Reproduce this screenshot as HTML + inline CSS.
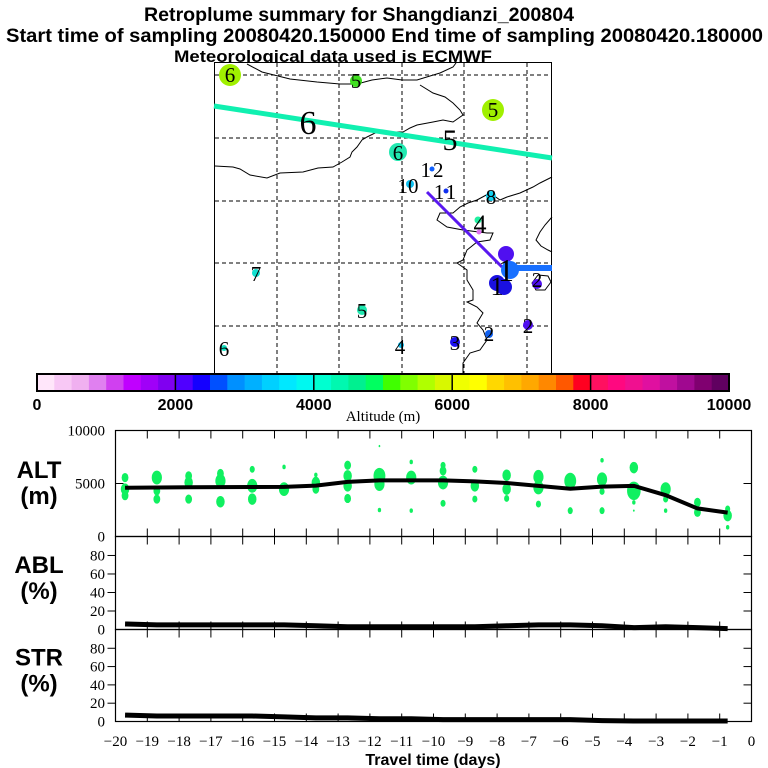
<!DOCTYPE html>
<html><head><meta charset="utf-8"><style>
html,body{margin:0;padding:0;background:#fff;}
svg{display:block;}
.t{font-family:"Liberation Sans",sans-serif;font-weight:bold;}
.s{font-family:"Liberation Serif",serif;}
</style></head><body>
<svg id="root" width="768" height="768" viewBox="0 0 768 768" xmlns="http://www.w3.org/2000/svg">
<rect width="768" height="768" fill="#fff"/>
<text class="t" x="359" y="21" font-size="19" text-anchor="middle" textLength="430" lengthAdjust="spacingAndGlyphs">Retroplume summary for Shangdianzi_200804</text>
<text class="t" x="6" y="42" font-size="19" textLength="757" lengthAdjust="spacingAndGlyphs">Start time of sampling 20080420.150000     End time of sampling 20080420.180000</text>
<text class="t" x="333" y="62" font-size="17" text-anchor="middle" textLength="318" lengthAdjust="spacingAndGlyphs">Meteorological data used is ECMWF</text>

<g id="map">
<rect x="214.5" y="62.5" width="337" height="311" fill="#fff" stroke="#000"/>
<g stroke="#000" stroke-dasharray="4,3" stroke-width="1">
<line x1="277" y1="63" x2="277" y2="373"/><line x1="339" y1="63" x2="339" y2="373"/><line x1="402" y1="63" x2="402" y2="373"/><line x1="464" y1="63" x2="464" y2="373"/><line x1="527" y1="63" x2="527" y2="373"/>
<line x1="215" y1="75" x2="551" y2="75"/><line x1="215" y1="138" x2="551" y2="138"/><line x1="215" y1="201" x2="551" y2="201"/><line x1="215" y1="263" x2="551" y2="263"/><line x1="215" y1="326" x2="551" y2="326"/>
</g>
<g fill="none" stroke="#000" stroke-width="1">
<polyline points="247,64 262,72 290,79 317,82 340,84 357,84 372,80 387,78 402,80 417,80 430,76 440,73 453,67 456,63"/>
<polyline points="420,85 433,93 445,97 453,103 460,110 463,115 453,122 443,120 433,122 417,125 410,128 403,132 387,132 375,133 367,137 362,140 357,147 352,152 350,157 342,162 333,167 318,168 303,172 280,173 267,178 250,175 240,169 233,167 215,166"/>
<polyline points="552,177 540,183 533,187 520,193 507,197 500,200 490,193 477,200 468,203 460,207 453,213 440,213 437,220 447,227 463,230 487,233 493,233 490,240 477,242 467,250 463,260 457,263 467,270 467,280 473,290 473,300 467,302 477,307 483,313 477,323 483,330 487,340 480,350 470,353 463,363 463,373"/>
<polyline points="552,217 545,225 540,232 536,240 541,246 548,250 552,252"/>
<polyline points="538,275 548,276 551,282 545,290 536,290 532,283 538,275"/>
</g>
<line x1="214" y1="106" x2="552" y2="158" stroke="#10f0b0" stroke-width="5"/>
<line x1="427" y1="192" x2="502" y2="267" stroke="#5a18f0" stroke-width="3"/>
<line x1="502" y1="268" x2="552" y2="268" stroke="#1870ff" stroke-width="6"/>
<g>
<circle cx="230" cy="75" r="11" fill="#a0f000"/>
<circle cx="356" cy="81" r="6" fill="#40e020"/>
<circle cx="493" cy="110" r="11" fill="#a0f000"/>
<circle cx="398" cy="152" r="9" fill="#20e8b0"/>
<circle cx="432" cy="169" r="2.5" fill="#1060ff"/>
<circle cx="410" cy="184" r="4" fill="#10c0f0"/>
<circle cx="446" cy="191" r="2.5" fill="#1030f0"/>
<circle cx="491" cy="196" r="5" fill="#10d0f0"/>
<circle cx="478" cy="220" r="3.5" fill="#20f0a0"/>
<circle cx="479" cy="232" r="2.5" fill="#e070f0"/>
<circle cx="506" cy="254" r="8" fill="#5010f0"/>
<circle cx="510" cy="270" r="9" fill="#1870ff"/>
<circle cx="497" cy="283" r="8" fill="#1a10e0"/>
<circle cx="504" cy="287" r="8" fill="#1a10e0"/>
<circle cx="537" cy="284" r="5" fill="#5010f0"/>
<circle cx="528" cy="325" r="5" fill="#5010f0"/>
<circle cx="489" cy="334" r="4" fill="#1060f0"/>
<circle cx="455" cy="342" r="5" fill="#1a10f0"/>
<circle cx="401" cy="345" r="3" fill="#10c0f0"/>
<circle cx="362" cy="310" r="5" fill="#20e8b0"/>
<circle cx="256" cy="273" r="4" fill="#10e0d0"/>
<circle cx="224" cy="348" r="3" fill="#10e0c0"/>
</g>
<g class="s" font-size="21" text-anchor="middle" fill="#000">
<text x="230" y="82">6</text><text x="356" y="88">5</text><text x="493" y="117">5</text>
<text x="308" y="134" font-size="34">6</text><text x="450" y="150" font-size="30">5</text>
<text x="398" y="160">6</text><text x="433" y="177" letter-spacing="2">12</text><text x="408" y="193">10</text><text x="446" y="199" letter-spacing="2">11</text>
<text x="491" y="204">8</text><text x="480" y="233" font-size="26">4</text>
<text x="506" y="281" font-size="32">1</text><text x="497" y="295" font-size="26">1</text>
<text x="537" y="287">2</text><text x="528" y="333">2</text><text x="489" y="341">2</text><text x="455" y="350">3</text>
<text x="400" y="354">4</text><text x="362" y="318">5</text><text x="256" y="281">7</text><text x="224" y="356">6</text>
</g>
</g>

<g id="colorbar"></g>
<text class="s" x="383" y="421" font-size="15" text-anchor="middle">Altitude (m)</text>

<g id="panels"></g>
<text class="t" x="433" y="765" font-size="16" text-anchor="middle">Travel time (days)</text>
</svg>
<script>
const NS='http://www.w3.org/2000/svg';
const root=document.getElementById('root');
function mk(tag,attrs,parent){const e=document.createElementNS(NS,tag);for(const k in attrs)e.setAttribute(k,attrs[k]);(parent||root).appendChild(e);return e;}

// colorbar data
const cbColors=['#ffe6fa','#f8c8f5','#f0b0f0','#e080f0','#d040f0','#c000ff','#a000f8','#8000f0',
'#5000ff','#1400ff','#0050ff','#0090ff','#00b0ff','#00d0ff','#00e8ff','#00f8f0',
'#00ffd0','#00f8b0','#00f090','#00ff60','#40ff00','#80ff00','#b0ff00','#d8f800',
'#f0ff00','#ffff00','#ffd800','#ffc000','#ffa800','#ff8800','#ff5800','#ff0020',
'#ff1060','#ff0880','#f01090','#e010a0','#c010a0','#a00890','#800070','#600060'];
const cbTicks=[0,2000,4000,6000,8000,10000];
const cbX0=37,cbX1=729,cbY=374,cbH=17;
const cb=document.getElementById('colorbar');
const cbx=v=>cbX0+(cbX1-cbX0)*v/10000;
cbColors.forEach((c,i)=>{const r=mk('rect',{x:cbx(i*250),y:cbY,width:cbx(250)-cbx(0)+0.5,height:cbH,fill:c},cb);

});
mk('rect',{x:cbX0,y:cbY,width:cbX1-cbX0,height:cbH,fill:'none',stroke:'#000','stroke-width':2},cb);
cbTicks.forEach(v=>{const x=cbx(v);mk('line',{x1:x,y1:cbY,x2:x,y2:cbY+cbH,stroke:'#000','stroke-width':1.5},cb);
const t=mk('text',{x:Math.min(Math.max(x,10),740),y:410,'font-size':16,'text-anchor':'middle',class:'t'},cb);t.textContent=v;

});

// time series data
const days=[-19.7,-18.7,-17.7,-16.7,-15.7,-14.7,-13.7,-12.7,-11.7,-10.7,-9.7,-8.7,-7.7,-6.7,-5.7,-4.7,-3.7,-2.7,-1.7,-0.75];
const altMean=[4600,4620,4650,4660,4670,4680,4800,5150,5300,5300,5300,5200,5050,4780,4500,4700,4780,3900,2650,2250];
const ablPct=[6,5,5,5,5,5,4,3,3,3,3,3,4,5,5,4,2,3,2,1];
const strPct=[7,6,6,6,6,5,4,4,3,3,2,2,2,2,2,1,0.5,0.5,0.5,0.5];
const dotDay=[];const dotAlt=[];const dotR=[];
const cols=[
[[5560,4],[4470,5],[3850,4]],[[5560,6],[4300,4],[3530,4]],[[5720,4],[5100,5],[3530,4]],[[5940,4],[5250,6],[3280,5]],
[[6340,3],[4780,6],[3530,5]],[[6560,2],[4470,6]],[[5810,2],[5090,5],[4470,4]],[[6720,4],[5720,5],[4780,5],[3590,4]],
[[8530,1],[5720,7],[4940,6],[2500,2]],[[7030,2],[5560,6],[2440,2]],[[6720,3],[6190,4],[5090,6],[3130,3]],[[6340,3],[4780,5],[3530,3]],
[[5780,5],[4470,5],[3590,3]],[[5630,6],[4620,6],[3060,3]],[[5250,7],[2440,3]],[[7190,2],[5400,6],[4250,3],[2440,3]],
[[6500,5],[4310,8],[3220,2],[2440,1]],[[4470,6],[3530,3],[2440,2]],[[3220,4],[2280,4]],[[2600,3],[1970,5],[870,2]]];
cols.forEach((c,i)=>c.forEach(p=>{dotDay.push(days[i]);dotAlt.push(p[0]);dotR.push(p[1]);}));
const xTicks=[-20,-19,-18,-17,-16,-15,-14,-13,-12,-11,-10,-9,-8,-7,-6,-5,-4,-3,-2,-1,0];
const pctTicks=[0,20,40,60,80];

const X0=115.5,X1=751.5;
const xs=d=>X0+(X1-X0)*(d+20)/20;
const panels=document.getElementById('panels');
function frame(top,bot,name){
  const g=mk('g',{},panels);
  
  
  mk('rect',{x:X0,y:top,width:X1-X0,height:bot-top,fill:'none',stroke:'#000','stroke-width':1.2},g);
  xTicks.slice(1,-1).forEach(d=>{const x=xs(d);mk('line',{x1:x,y1:top,x2:x,y2:top+8,stroke:'#000'},g);mk('line',{x1:x,y1:bot,x2:x,y2:bot-8,stroke:'#000'},g);});
  return g;
}
function label(g,txt,x,y,cls,size,anchor,name){const t=mk('text',{x:x,y:y,'font-size':size,'text-anchor':anchor||'end',class:cls},g);t.textContent=txt;

return t;}

// ALT panel
const aTop=430.5,aBot=536.5;
const ay=v=>aBot-(aBot-aTop)*v/10000;
const ga=frame(aTop,aBot,'alt-panel');
[5000].forEach(v=>{mk('line',{x1:X0,y1:ay(v),x2:X0+8,y2:ay(v),stroke:'#000'},ga);mk('line',{x1:X1,y1:ay(v),x2:X1-8,y2:ay(v),stroke:'#000'},ga);});
[10000,5000,0].forEach(v=>label(ga,v,105,ay(v)+5,'s',15,'end','alt-tick-label'));
label(ga,'ALT',39,478,'t',24,'middle','alt-axis-title');
label(ga,'(m)',39,504,'t',24,'middle','alt-axis-unit');
dotDay.forEach((d,i)=>{const e=mk('ellipse',{cx:xs(d),cy:ay(dotAlt[i]),rx:dotR[i]*0.85,ry:dotR[i]*1.15,fill:'#10f060'},ga);

});
const al=mk('polyline',{points:days.map((d,i)=>xs(d)+','+ay(altMean[i])).join(' '),fill:'none',stroke:'#000','stroke-width':4},ga);



function pctPanel(top,bot,vals,name,title){
  const g=frame(top,bot,name+'-panel');
  const py=v=>bot-(bot-top)*v/100.5;
  pctTicks.slice(1).forEach(v=>{mk('line',{x1:X0,y1:py(v),x2:X0-8,y2:py(v),stroke:'#000'},g);mk('line',{x1:X1,y1:py(v),x2:X1-8,y2:py(v),stroke:'#000'},g);});
  pctTicks.forEach(v=>label(g,v,105,py(v)+5,'s',15,'end',name+'-tick-label'));
  label(g,title,39,(top+bot)/2-10,'t',24,'middle',name+'-axis-title');
  label(g,'(%)',39,(top+bot)/2+16,'t',24,'middle',name+'-axis-unit');
  const l=mk('polyline',{points:days.map((d,i)=>xs(d)+','+py(vals[i])).join(' '),fill:'none',stroke:'#000','stroke-width':5},g);
  
  
  return g;
}
pctPanel(536.5,629.5,ablPct,'abl','ABL');
const gs=pctPanel(629.5,721.5,strPct,'str','STR');
xTicks.forEach(d=>{const t=mk('text',{x:xs(d),y:746,'font-size':15,'text-anchor':'middle',class:'s'},gs);t.textContent=(d<0?'\u2212'+(-d):d);

});
</script>
</body></html>
